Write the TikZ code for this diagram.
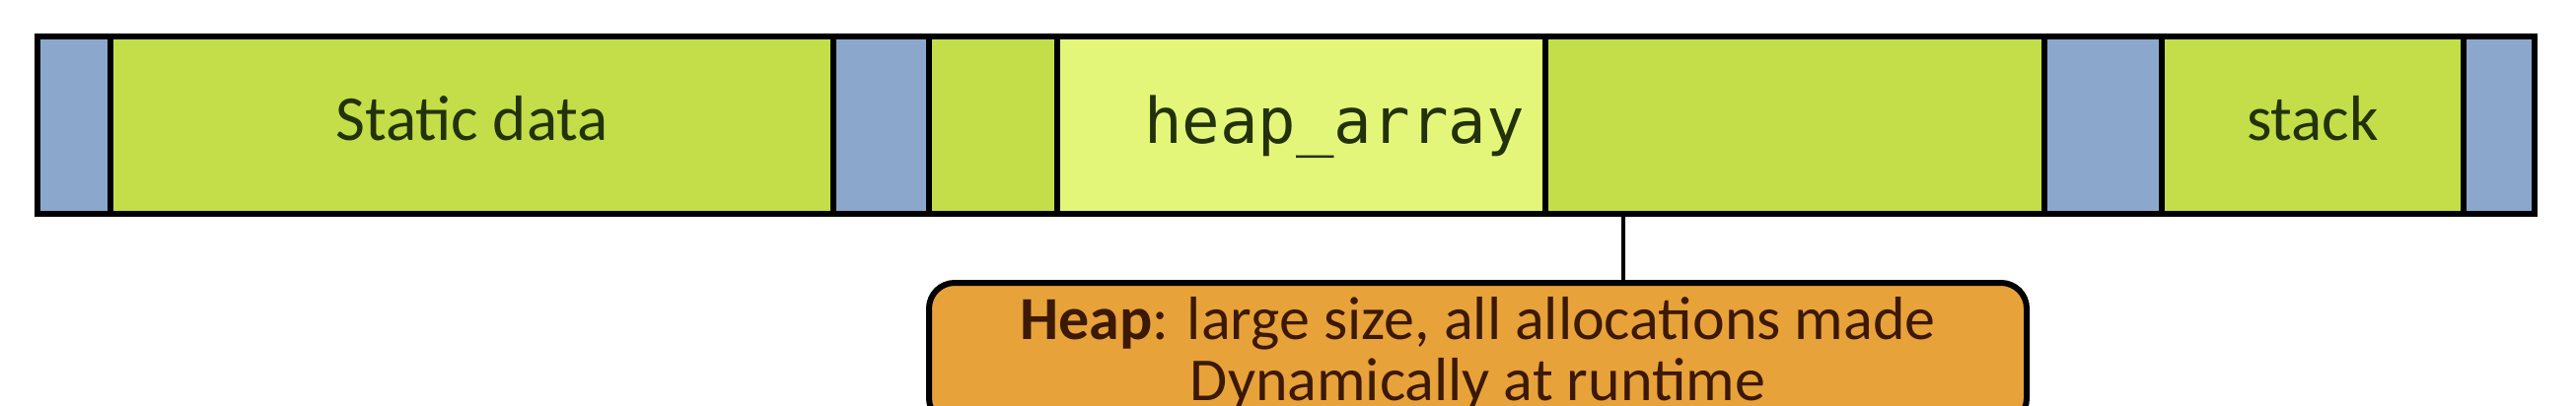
\documentclass[tikz,border=0pt]{standalone}
\usepackage{fontspec}
\setmainfont{Carlito}
\newfontfamily\codefont{DejaVu Sans Mono}
\usepackage{xcolor}
\definecolor{memblue}{RGB}{139,168,204}
\definecolor{memgreen}{RGB}{195,222,72}
\definecolor{memlight}{RGB}{228,246,122}
\definecolor{heaporange}{RGB}{232,162,58}
\definecolor{segtext}{RGB}{35,50,10}
\definecolor{notetext}{RGB}{60,25,5}
\usepackage{tikz}
\usetikzlibrary{positioning, calc}

\begin{document}
\begin{tikzpicture}[
        x=1pt, y=-1pt,
        seg/.style={rectangle, draw=black, fill=#1, line width=6pt, anchor=west, inner sep=0pt, outer sep=0pt, minimum height=180pt, text depth=14pt, text=segtext, font=\fontsize{65}{70}\selectfont},
        note/.style={rectangle, rounded corners=26pt, draw=black, fill=heaporange, line width=6pt, anchor=north, minimum width=1113pt, inner xsep=0pt, inner ysep=14pt, align=center, text=notetext, font=\fontsize{62}{62}\selectfont},
        link/.style={line width=4pt, color=black}
    ]
        \clip (0,0) rectangle (2612,412);
        \fill[white] (0,0) rectangle (2612,412);

        % memory bar
        \node[seg=memblue, minimum width=74pt] (gapa) at (38,127) {};
        \node[seg=memgreen, minimum width=733pt] (static) at (112,127) {Static data};
        \node[seg=memblue, minimum width=97pt] (gapb) at (845,127) {};
        \node[seg=memgreen, minimum width=130pt] (heapleft) at (942,127) {};
        \node[seg=memlight, minimum width=495pt] (heaparray) at (1072,127) {};
        \node[seg=memgreen, minimum width=506pt] (heapright) at (1567,127) {};
        \node[seg=memblue, minimum width=119pt] (gapc) at (2073,127) {};
        \node[seg=memgreen, minimum width=306pt] (stack) at (2192,127) {stack};
        \node[seg=memblue, minimum width=72pt] (gapd) at (2498,127) {};
        \node[text=segtext, font=\codefont\fontsize{64}{68}\selectfont] (arrayname) at (1353,129) {heap\_array};

        % heap note
        \node[note] (heapinfo) at (1498.5,284) {\textbf{Heap}: large size, all allocations made\\Dynamically at runtime};
        \coordinate (tap) at (1646,217);
        \draw[link] (tap) -- (tap |- heapinfo.north);
    \end{tikzpicture}
\end{document}
